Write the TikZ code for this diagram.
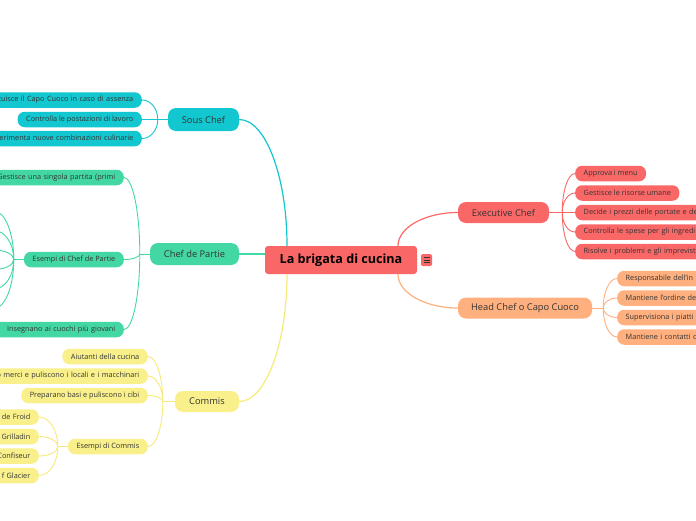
\documentclass[tikz,border=0pt]{standalone}
\usepackage{fontspec}
\setmainfont{Open Sans}
\usetikzlibrary{calc}
\definecolor{rootred}{HTML}{FA6767}
\definecolor{tealc}{HTML}{12C7CF}
\definecolor{mint}{HTML}{43D8A3}
\definecolor{yel}{HTML}{F9F08C}
\definecolor{yelline}{HTML}{F6EA7A}
\definecolor{orng}{HTML}{FFB07E}
\definecolor{txt}{HTML}{333333}
% vertical start, horizontal end
\newcommand\mmvh[3]{\draw[#1] (#2) .. controls ($(#2)!0.55!(#2 |- #3)$) and ($(#3)!0.55!(#2 |- #3)$) .. (#3);}
% horizontal start, vertical end
\newcommand\mmhv[3]{\draw[#1] (#2) .. controls ($(#2)!0.55!(#3 |- #2)$) and ($(#3)!0.55!(#3 |- #2)$) .. (#3);}
\begin{document}
\begin{tikzpicture}[x=1pt,y=-1pt,
  rootbox/.style={fill=rootred, rounded corners=3, minimum width=152, minimum height=28, inner sep=0, font=\fontsize{12.6}{14}\selectfont\bfseries, text=black},
  topic/.style={rounded corners=8, minimum height=21, inner sep=0, font=\fontsize{9.3}{11}\selectfont, text=txt},
  leaf/.style={rounded corners=7, minimum height=15.5, inner xsep=8.5, inner ysep=0, font=\fontsize{7.3}{8}\selectfont, text=txt},
  lclip/.style={text width=220, align=right},
  rclip/.style={text width=150, align=left},
  lk/.style={line width=0.9},
  mk/.style={line width=1.2}]
\useasboundingbox (0,0) rectangle (696,520);
\clip (0,0) rectangle (696,520);

% root
\node[rootbox] (root) at (341,260) {La brigata di cucina};
\node[fill=rootred, rounded corners=1.5, minimum width=11, minimum height=12, inner sep=0] (icon) at (426.5,260) {};
\foreach \dy in {-2.5,0,2.5}
  \draw[line width=0.9, black!80] ([xshift=-3pt, yshift=\dy pt]icon.center) -- ([xshift=3pt, yshift=\dy pt]icon.center);
\coordinate (rtl) at ([xshift=-54pt]root.north);
\coordinate (rbl) at ([xshift=-54pt]root.south);
\coordinate (rtr) at ([xshift=57pt]root.north);
\coordinate (rbr) at ([xshift=57pt]root.south);

% main topics
\node[topic, fill=tealc, minimum width=71, minimum height=23] (sous) at (203.5,119.5) {Sous Chef};
\node[topic, fill=mint, minimum width=89, minimum height=22] (cdp) at (194.5,254) {Chef de Partie};
\node[topic, fill=yel, minimum width=64] (commis) at (207,401.5) {Commis};
\node[topic, fill=rootred, minimum width=91] (exec) at (503.5,212.5) {Executive Chef};
\node[topic, fill=orng, minimum width=134] (head) at (525,308) {Head Chef o Capo Cuoco};

\mmhv{tealc,mk}{sous.east}{rtl}
\draw[mint,mk] (cdp.east) -- (cdp.east -| root.west);
\mmhv{yelline,mk}{commis.east}{rbl}
\mmvh{rootred,mk}{rtr}{exec.west}
\mmvh{orng,mk}{rbr}{head.west}

% Sous Chef leaves
\node[leaf, fill=tealc, anchor=east, lclip] (s1) at (142,100) {tuisce il Capo Cuoco in caso di assenza};
\node[leaf, fill=tealc, anchor=east] (s2) at (142,119.5) {Controlla le postazioni di lavoro};
\node[leaf, fill=tealc, anchor=east, lclip] (s3) at (142,138.5) {perimenta nuove combinazioni culinarie};
\draw[tealc,lk] (sous.west) -- ++(-10,0) coordinate (js);
\foreach \c in {s1,s2,s3} {\mmvh{tealc,lk}{js}{\c.east}}

% Chef de Partie leaves
\node[leaf, fill=mint, anchor=east, lclip] (c1) at (124,177.5) {Gestisce una singola partita (primi};
\node[leaf, fill=mint, anchor=east] (c2) at (124,259.5) {Esempi di Chef de Partie};
\node[leaf, fill=mint, anchor=east, lclip] (c3) at (124,329.5) {Insegnano ai cuochi più giovani};
\draw[mint,lk] (cdp.west) -- ++(-10,0) coordinate (jc);
\foreach \c in {c1,c2,c3} {\mmvh{mint,lk}{jc}{\c.east}}
\draw[mint,lk] (c2.west) -- ++(-10,0) coordinate (jc2);
\coordinate (e1) at (-6,211);
\coordinate (e2) at (-6,230.5);
\coordinate (e3) at (-6,250);
\coordinate (e4) at (-6,269.5);
\coordinate (e5) at (-6,289);
\coordinate (e6) at (-6,308.5);
\foreach \c in {e1,e2,e3,e4,e5,e6} {\mmvh{mint,lk}{jc2}{\c}}

% Commis leaves
\node[leaf, fill=yel, anchor=east] (m1) at (148,356.5) {Aiutanti della cucina};
\node[leaf, fill=yel, anchor=east, lclip] (m2) at (148,376) {o merci e puliscono i locali e i macchinari};
\node[leaf, fill=yel, anchor=east] (m3) at (148,395.5) {Preparano basi e puliscono i cibi};
\node[leaf, fill=yel, anchor=east] (m4) at (148,446.5) {Esempi di Commis};
\draw[yelline,lk] (commis.west) -- ++(-12,0) coordinate (jm);
\foreach \c in {m1,m2,m3,m4} {\mmvh{yelline,lk}{jm}{\c.east}}
\node[leaf, fill=yel, anchor=east, lclip] (k1) at (39,417) {de Froid};
\node[leaf, fill=yel, anchor=east, lclip] (k2) at (39,436.5) {Grilladin};
\node[leaf, fill=yel, anchor=east, lclip] (k3) at (39,456) {Confiseur};
\node[leaf, fill=yel, anchor=east, lclip] (k4) at (39,475.5) {f Glacier};
\draw[yelline,lk] (m4.west) -- ++(-10,0) coordinate (jk);
\foreach \c in {k1,k2,k3,k4} {\mmvh{yelline,lk}{jk}{\c.east}}

% Executive Chef leaves
\node[leaf, fill=rootred, anchor=west] (x1) at (575,173.5) {Approva i menu};
\node[leaf, fill=rootred, anchor=west] (x2) at (575,193) {Gestisce le risorse umane};
\node[leaf, fill=rootred, anchor=west, rclip] (x3) at (575,212.5) {Decide i prezzi delle portate e de};
\node[leaf, fill=rootred, anchor=west, rclip] (x4) at (575,232) {Controlla le spese per gli ingredi};
\node[leaf, fill=rootred, anchor=west, rclip] (x5) at (575,251.5) {Risolve i problemi e gli imprevist};
\draw[rootred,lk] (exec.east) -- ++(13,0) coordinate (jx);
\foreach \c in {x1,x2,x3,x4,x5} {\mmvh{rootred,lk}{jx}{\c.west}}

% Head Chef leaves
\node[leaf, fill=orng, anchor=west, rclip] (h1) at (617,278.5) {Responsabile dell'in};
\node[leaf, fill=orng, anchor=west, rclip] (h2) at (617,298) {Mantiene l'ordine de};
\node[leaf, fill=orng, anchor=west, rclip] (h3) at (617,317.5) {Supervisiona i piatti};
\node[leaf, fill=orng, anchor=west, rclip] (h4) at (617,337) {Mantiene i contatti c};
\draw[orng,lk] (head.east) -- ++(11,0) coordinate (jh);
\foreach \c in {h1,h2,h3,h4} {\mmvh{orng,lk}{jh}{\c.west}}
\end{tikzpicture}
\end{document}
